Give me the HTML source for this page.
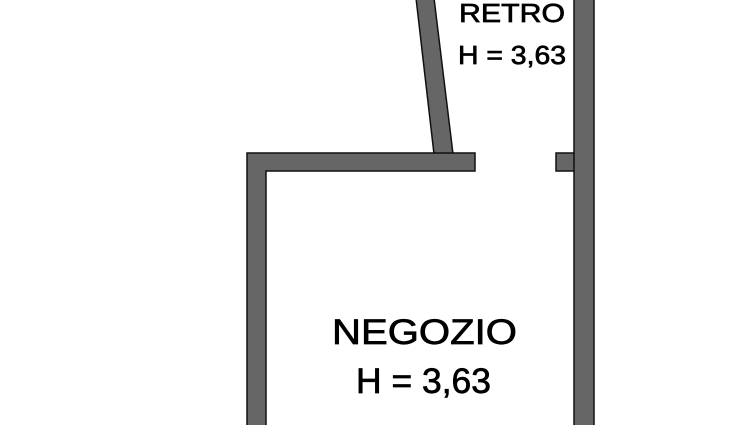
<!DOCTYPE html>
<html><head><style>html,body{margin:0;padding:0;background:#fff;width:750px;height:425px;overflow:hidden}</style></head>
<body>
<svg width="750" height="425" viewBox="0 0 750 425" xmlns="http://www.w3.org/2000/svg">
<rect width="750" height="425" fill="#fff"/>
<g fill="#666" stroke="#111" stroke-width="1.5">
<polygon points="416,-2 434,-2 453,154 434,154"/>
<path d="M247,427 L247,153 L475,153 L475,171 L266,171 L266,427 Z"/>
<rect x="556" y="153" width="22" height="18"/>
<rect x="574" y="-2" width="20" height="429"/>
</g>
<g fill="#000" stroke="#000" stroke-width="0.7" font-family="Liberation Sans, sans-serif">
<text x="459" y="22" font-size="26" textLength="106" lengthAdjust="spacingAndGlyphs">RETRO</text>
<text x="458" y="64" font-size="26" textLength="108" lengthAdjust="spacingAndGlyphs">H = 3,63</text>
<text x="332" y="344" font-size="35" textLength="185" lengthAdjust="spacingAndGlyphs">NEGOZIO</text>
<text x="356" y="393" font-size="35" textLength="135" lengthAdjust="spacingAndGlyphs">H = 3,63</text>
</g>
</svg>
</body></html>
